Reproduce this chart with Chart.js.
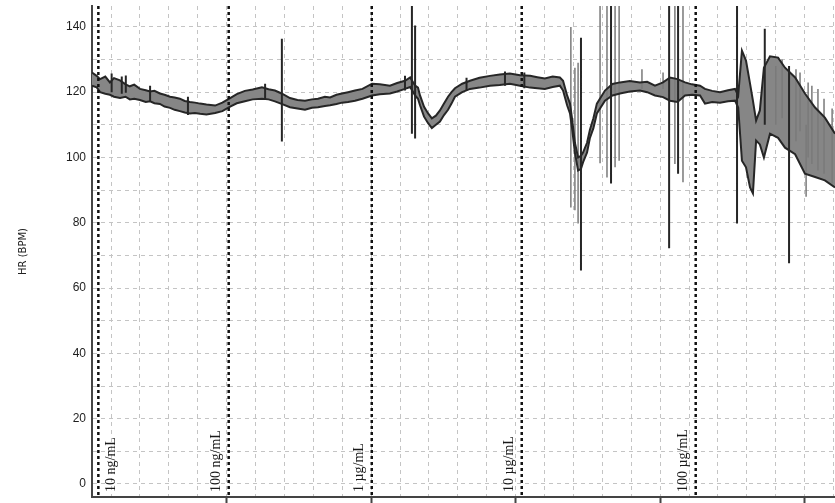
<!DOCTYPE html>
<html>
<head>
<meta charset="utf-8">
<title>HR (BPM)</title>
<script src="https://cdn.jsdelivr.net/npm/chart.js@4.4.1/dist/chart.umd.min.js"></script>
<style>
  html, body { margin: 0; padding: 0; background: #fff; }
  canvas { display: block; }
</style>
</head>
<body>
<canvas id="hrChart" width="835" height="503"></canvas>
<script>
// recording time (min) with the upper and lower edge of the heart-rate trace
const minutes = [
  0.34, 0.50, 0.62, 0.80, 0.96, 1.10, 1.31, 1.50, 1.65, 1.80,
  2.00, 2.20, 2.35, 2.50, 2.69, 2.85, 3.04, 3.20, 3.38, 3.55,
  3.73, 3.90, 4.08, 4.30, 4.60, 4.85, 5.12, 5.35, 5.63, 5.90,
  6.22, 6.45, 6.67, 6.90, 7.19, 7.45, 7.71, 7.95, 8.16, 8.40,
  8.58, 8.80, 8.99, 9.20, 9.44, 9.70, 10.03, 10.30, 10.65, 10.90,
  11.17, 11.35, 11.52, 11.62, 11.69, 11.83, 11.97, 12.10, 12.24, 12.38,
  12.52, 12.66, 12.78, 12.90, 13.15, 13.42, 13.75, 14.11, 14.45, 14.80,
  15.15, 15.50, 15.75, 16.01, 16.28, 16.53, 16.64, 16.78, 16.88, 16.95,
  17.05, 17.16, 17.26, 17.33, 17.47, 17.57, 17.69, 17.81, 18.09, 18.35,
  18.61, 18.95, 19.30, 19.55, 19.82, 20.10, 20.34, 20.60, 20.86, 21.10,
  21.38, 21.55, 21.80, 22.07, 22.35, 22.59, 22.70, 22.83, 22.97, 23.11,
  23.21, 23.32, 23.45, 23.59, 23.80, 24.08, 24.32, 24.67, 25.01, 25.36,
  25.70, 26.05
]
const hrUpper = [
  126.0, 125.0, 124.0, 124.8, 123.0, 124.3, 123.6, 122.4, 121.8, 122.3,
  121.0, 120.6, 120.2, 120.4, 119.6, 119.2, 118.6, 118.4, 118.0, 117.3,
  117.0, 116.8, 116.5, 116.2, 115.9, 116.8, 118.2, 119.4, 120.4, 120.8,
  121.5, 120.9, 120.5, 119.6, 118.2, 117.6, 117.4, 117.8, 118.0, 118.6,
  118.4, 119.2, 119.6, 120.0, 120.5, 121.0, 122.6, 122.4, 122.0, 122.8,
  123.5, 124.5, 122.0, 121.4, 119.0, 115.5, 113.5, 112.0, 112.8, 114.4,
  116.5, 118.6, 120.0, 121.2, 122.6, 123.5, 124.4, 125.0, 125.4, 125.7,
  125.2, 125.0, 124.6, 124.2, 124.8, 124.5, 123.5, 119.0, 116.5, 112.0,
  104.5, 100.0, 100.5, 101.5, 104.5, 108.5, 112.0, 116.5, 120.5, 122.5,
  123.0, 123.4, 123.0, 123.2, 122.0, 123.0, 124.5, 124.0, 123.0, 122.4,
  122.0, 121.0, 120.4, 120.0, 120.6, 121.0, 119.0, 132.7, 129.7, 122.6,
  117.4, 111.3, 114.4, 127.5, 131.0, 130.6, 127.5, 124.5, 119.6, 115.3,
  112.2, 107.3
]
const hrLower = [
  122.0, 121.5, 120.0, 119.5, 119.2, 118.6, 118.2, 118.6, 117.8, 118.0,
  117.6, 117.0, 117.2, 116.6, 116.4, 115.6, 115.2, 114.6, 114.2, 113.8,
  113.5, 113.6, 113.4, 113.2, 113.6, 114.2, 115.6, 116.6, 117.2, 117.8,
  118.0, 117.8, 117.2, 116.4, 115.4, 115.0, 114.6, 115.2, 115.4, 115.8,
  116.0, 116.4, 116.8, 117.0, 117.4, 118.0, 119.0, 119.4, 119.6, 120.2,
  121.0, 121.6, 119.0, 118.0, 116.0, 112.5, 110.5, 109.0, 110.0, 111.0,
  113.0, 114.6, 116.5, 118.6, 120.0, 121.0, 121.4, 122.0, 122.2, 122.6,
  122.0, 121.4, 121.2, 121.0, 121.6, 122.0, 120.5, 116.0, 113.5, 109.0,
  101.5, 96.0, 96.5, 98.5, 101.5, 106.0, 109.0, 113.5, 117.4, 119.0,
  119.6, 120.2, 120.5, 120.0, 119.0, 118.5, 117.4, 117.0, 119.0, 119.2,
  119.0, 116.5, 117.0, 116.8, 117.2, 117.4, 115.3, 99.0, 97.0, 90.8,
  89.0, 105.2, 104.0, 100.0, 107.3, 106.0, 103.0, 101.0, 95.0, 94.0,
  93.0, 90.8
]

// artefact spikes (dark): time, top, bottom
const darkSpikeMinutes = [
  1.02, 1.37, 1.51, 2.35, 3.66, 6.33, 6.91, 11.17, 11.41, 11.52,
  13.30, 14.63, 15.30, 17.26, 18.30, 20.31, 20.62, 22.66, 23.62, 24.46
]
const darkSpikeTop = [
  125.7, 124.8, 125.1, 122.0, 118.6, 122.6, 136.4, 125.0, 147, 140.4,
  124.4, 126.3, 126.0, 136.7, 147, 147, 147, 147, 139.4, 128.0
]
const darkSpikeBottom = [
  120.0, 119.5, 119.8, 117.0, 113.0, 117.8, 104.9, 120.5, 107.3, 105.8,
  120.5, 122.0, 121.2, 65.4, 92.0, 72.2, 95.0, 79.8, 110.0, 67.6
]

// artefact spikes (grey): time, top, bottom
const greySpikeMinutes = [
  16.91, 17.05, 17.16, 17.92, 18.16, 18.44, 18.58, 19.37, 20.10, 20.51,
  20.79, 24.00, 24.22, 24.70, 24.84, 25.05, 25.12, 25.25, 25.46, 25.67, 25.95
]
const greySpikeTop = [
  140.0, 127.5, 129.0, 147, 147, 147, 147, 127.0, 126.0, 147,
  147, 128.0, 130.0, 127.0, 126.0, 110.0, 123.0, 122.0, 121.0, 118.0, 115.0
]
const greySpikeBottom = [
  84.7, 83.8, 79.8, 98.2, 93.9, 97.0, 99.0, 121.0, 121.0, 98.0,
  92.4, 110.0, 112.0, 105.0, 108.0, 88.0, 100.0, 98.0, 96.0, 95.0, 92.0
]

// dose additions
const doseMinutes = [0.56, 5.07, 10.02, 15.21, 21.23]
const doseLabels = ['10 ng/mL', '100 ng/mL', '1 µg/mL', '10 µg/mL', '100 µg/mL']

const hrTicks = [0, 20, 40, 60, 80, 100, 120, 140]
const HR_MIN = -4
const HR_MAX = 146.4
const T_MIN = 0.34
const T_MAX = 26.05

function toPoints(xs, ys) {
  return xs.map((x, i) => ({ x, y: ys[i] }))
}

// every spike is its own vertical segment, split from the next by a gap
function toSegments(xs, tops, bottoms) {
  return xs.flatMap((x, i) => [{ x, y: tops[i] }, { x, y: bottoms[i] }, { x, y: null }])
}

// no extra room for the end labels, the plot runs edge to edge
function noScalePadding(scale) {
  scale.paddingTop = 0
  scale.paddingBottom = 0
  scale.paddingLeft = 0
  scale.paddingRight = 0
}

const doseLabelPlugin = {
  id: 'doseLabels',
  afterDatasetsDraw(chart) {
    const { ctx, chartArea, scales: { x } } = chart
    ctx.save()
    ctx.font = '14px "Liberation Serif", "Times New Roman", serif'
    ctx.fillStyle = '#1a1a1a'
    ctx.textAlign = 'left'
    ctx.textBaseline = 'middle'
    doseMinutes.forEach((t, i) => {
      // first label sits right of its line, the rest on the left
      const px = x.getPixelForValue(t) + (i === 0 ? 13 : -12)
      ctx.save()
      ctx.translate(px, chartArea.bottom - 5)
      ctx.rotate(-Math.PI / 2)
      ctx.fillText(doseLabels[i], 0, 0)
      ctx.restore()
    })
    ctx.restore()
  }
}

const gridColor = '#c4c4c4'

new Chart(document.getElementById('hrChart'), {
  type: 'scatter',
  data: {
    datasets: [
      {
        label: 'dose',
        data: toSegments(doseMinutes, doseMinutes.map(() => HR_MAX), doseMinutes.map(() => HR_MIN)),
        showLine: true,
        spanGaps: false,
        borderColor: '#111',
        borderWidth: 2.5,
        borderDash: [3, 3]
      },
      {
        label: 'dark spikes',
        data: toSegments(darkSpikeMinutes, darkSpikeTop, darkSpikeBottom),
        showLine: true,
        spanGaps: false,
        borderColor: '#262626',
        borderWidth: 2
      },
      {
        label: 'HR upper',
        data: toPoints(minutes, hrUpper),
        showLine: true,
        borderColor: '#262626',
        borderWidth: 2,
        backgroundColor: '#868686',
        fill: '+1'
      },
      {
        label: 'HR lower',
        data: toPoints(minutes, hrLower),
        showLine: true,
        borderColor: '#262626',
        borderWidth: 2
      },
      {
        label: 'grey spikes',
        data: toSegments(greySpikeMinutes, greySpikeTop, greySpikeBottom),
        showLine: true,
        spanGaps: false,
        borderColor: '#7a7a7a',
        borderWidth: 1.5
      }
    ]
  },
  options: {
    responsive: false,
    animation: false,
    events: [],
    layout: { padding: { top: 6, right: 0, bottom: 0, left: 0 } },
    elements: { point: { radius: 0 }, line: { tension: 0 } },
    plugins: {
      legend: { display: false },
      tooltip: { enabled: false },
      filler: { drawTime: 'beforeDatasetsDraw' }
    },
    scales: {
      x: {
        type: 'linear',
        min: T_MIN,
        max: T_MAX,
        afterFit: (scale) => {
          scale.height = 6
          noScalePadding(scale)
        },
        ticks: { display: false, stepSize: 1, includeBounds: false, autoSkip: false },
        grid: {
          color: gridColor,
          lineWidth: 1,
          drawTicks: true,
          tickLength: 6,
          tickWidth: 2,
          tickColor: (c) => (c.tick && c.tick.value % 5 === 0 ? '#444' : 'rgba(0,0,0,0)')
        },
        border: { display: true, color: '#444', width: 2, dash: [4, 4] }
      },
      y: {
        min: HR_MIN,
        max: HR_MAX,
        afterFit: (scale) => {
          scale.width = 92
          noScalePadding(scale)
        },
        ticks: {
          stepSize: 10,
          includeBounds: false,
          autoSkip: false,
          padding: 6,
          color: '#1e1e1e',
          font: { family: 'Liberation Sans', size: 12 },
          callback: (v) => (hrTicks.includes(v) ? v : '')
        },
        grid: { color: gridColor, lineWidth: 1, drawTicks: false },
        border: { display: true, color: '#444', width: 2, dash: [4, 4] },
        title: {
          display: true,
          text: 'HR (BPM)',
          color: '#222',
          font: { family: 'DejaVu Sans', size: 10 },
          padding: { top: 17, bottom: 0 }
        }
      }
    }
  },
  plugins: [doseLabelPlugin]
})
</script>
</body>
</html>
